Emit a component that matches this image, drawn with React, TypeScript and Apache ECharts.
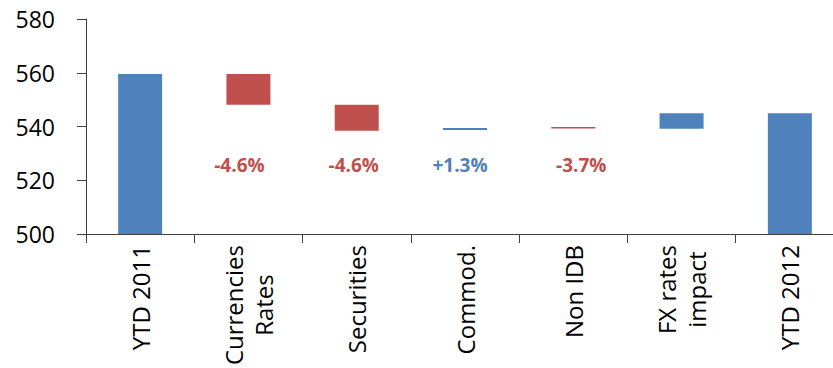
import React, { useEffect, useRef } from "react";
import * as echarts from "echarts";

const categories = ["YTD 2011", "Currencies\nRates", "Securities", "Commod.", "Non IDB", "FX rates\nimpact", "YTD 2012"];
// bottom of each floating bar (null = bar starts from the axis)
const barLows: (number | null)[] = [null, 548.1, 538.4, 538.7, 539.3, 539.2, null];
// top of each bar
const barHighs = [559.5, 559.5, 548.1, 539.4, 539.8, 544.9, 544.9];
const barKinds = ["total", "down", "down", "up", "down", "up", "total"];
const changeLabels = ["", "-4.6%", "-4.6%", "+1.3%", "-3.7%", "", ""];
const labelLevel = 525.7;
const yTicks = [500, 520, 540, 560, 580];

const BLUE = "#4F81BD";
const RED = "#C0504D";
const labelNudge = [0, -9, -3, -5, 8, 0, 0];

export default function App() {
  const ref = useRef<HTMLDivElement>(null);
  useEffect(() => {
    if (!ref.current) return;
    const chart = echarts.init(ref.current, undefined, { renderer: "svg" });
    const colorOf = (k: string) => (k === "down" ? RED : BLUE);
    const base = barLows.map((l) => (l == null ? 0 : l));
    const visible = barHighs.map((h, i) => ({
      value: +(h - base[i]).toFixed(2),
      itemStyle: { color: colorOf(barKinds[i]) },
    }));
    const labelData = changeLabels.map((t, i) =>
      t
        ? {
            value: labelLevel,
            label: {
              show: true,
              formatter: t,
              color: colorOf(barKinds[i]),
              offset: [labelNudge[i], 0],
            },
          }
        : null
    );
    chart.setOption({
      animation: false,
      grid: { left: 86, top: 19, width: 758, height: 215, containLabel: false, outerBoundsMode: "none" },
      xAxis: {
        type: "category",
        data: categories,
        boundaryGap: true,
        axisLine: { show: true, lineStyle: { color: "#404040", width: 1 } },
        axisTick: { show: true, length: 9, interval: 0, lineStyle: { color: "#404040" } },
        axisLabel: {
          interval: 0,
          rotate: 90,
          margin: 11,
          fontSize: 24,
          fontFamily: "Open Sans",
          color: "#000",
          formatter: (v: string) =>
            v
              .split("\n")
              .map((s) => "{c|" + s + "}")
              .join("\n"),
          rich: {
            c: { align: "center", fontSize: 24, fontFamily: "Open Sans", color: "#000", lineHeight: 30 },
          },
        },
        splitLine: { show: false },
      },
      yAxis: {
        type: "value",
        min: yTicks[0],
        max: yTicks[yTicks.length - 1],
        interval: yTicks[1] - yTicks[0],
        axisLine: { show: true, lineStyle: { color: "#404040", width: 1 } },
        axisTick: { show: true, length: 9, lineStyle: { color: "#404040" } },
        axisLabel: { margin: 31, fontSize: 23, fontFamily: "Open Sans", color: "#000" },
        splitLine: { show: false },
      },
      series: [
        {
          type: "bar",
          stack: "wf",
          data: base,
          barWidth: 44,
          itemStyle: { color: "transparent" },
          silent: true,
        },
        {
          type: "bar",
          stack: "wf",
          data: visible,
          barWidth: 44,
        },
        {
          type: "scatter",
          data: labelData,
          symbolSize: 0,
          itemStyle: { color: "transparent", opacity: 1 },
          label: {
            show: true,
            position: "inside",
            fontSize: 19,
            fontWeight: "bold",
            fontFamily: "Open Sans",
          },
        },
      ],
    });
    return () => chart.dispose();
  }, []);
  return (
    <div
      ref={ref}
      style={{ position: "fixed", left: 0, top: 0, width: 833, height: 368, background: "#fff" }}
    />
  );
}
